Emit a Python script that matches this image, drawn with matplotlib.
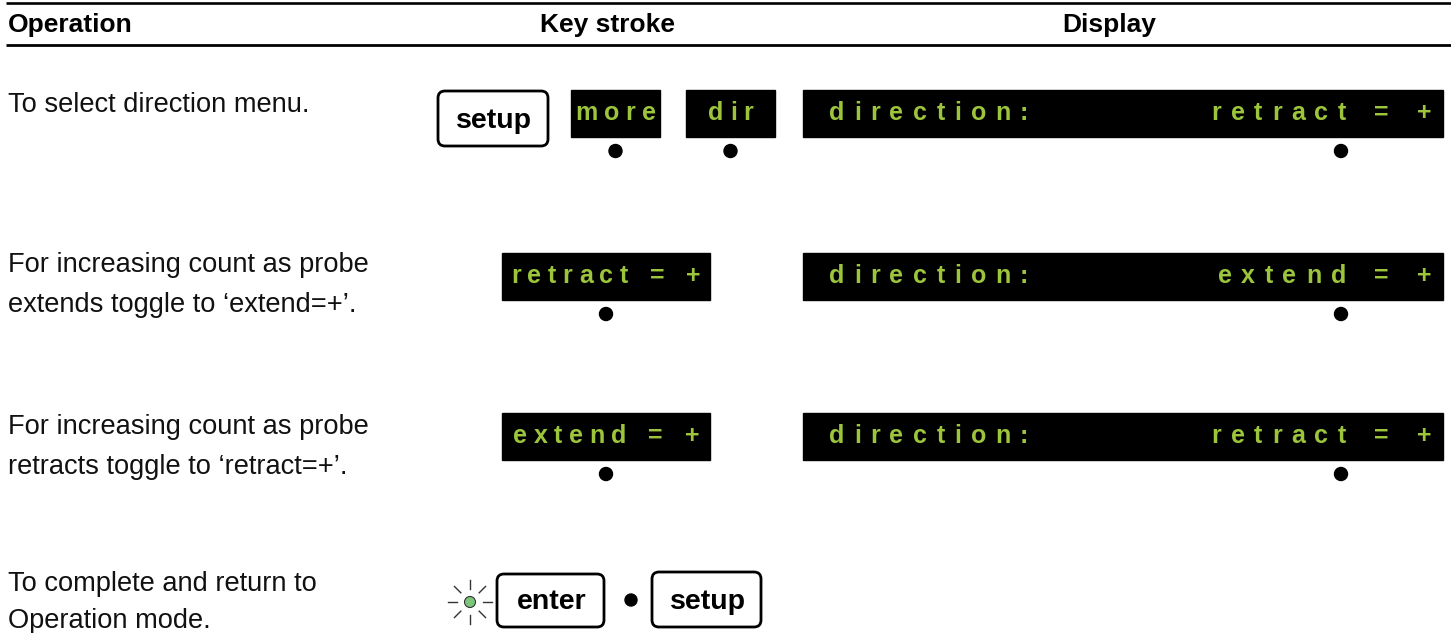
import math
import matplotlib
matplotlib.use("Agg")
import matplotlib.pyplot as plt
from matplotlib.patches import FancyBboxPatch, Rectangle, Circle

W, H = 1451, 633
GREEN = "#9cc53b"
FONT = "Liberation Sans"

# table content
headers = ["Operation", "Key stroke", "Display"]
header_x = [8, 607, 1109]
operations = [
    ["To select direction menu."],
    ["For increasing count as probe", "extends toggle to ‘extend=+’."],
    ["For increasing count as probe", "retracts toggle to ‘retract=+’."],
    ["To complete and return to", "Operation mode."],
]
op_baselines = [[112], [272, 312], [434, 474], [591, 628]]

# lcd key labels per row
lcd_keys = [["more", "dir"], ["retract = +"], ["extend = +"], []]
lcd_key_boxes = [[(571, 660), (686, 775)], [(502, 710)], [(502, 710)], []]

display_left = ["direction:", "direction:", "direction:", None]
display_right = ["retract = +", "extend = +", "retract = +", None]
row_box_y = [(90, 137), (253, 300), (413, 460)]

fig = plt.figure(figsize=(W / 100, H / 100), dpi=100)
ax = fig.add_axes([0, 0, 1, 1])
ax.set_xlim(0, W)
ax.set_ylim(H, 0)
ax.axis("off")
renderer = fig.canvas.get_renderer()

# header rules
ax.plot([6, W], [3, 3], color="black", lw=1.9, solid_capstyle="butt")
ax.plot([6, W], [44.5, 44.5], color="black", lw=2.0, solid_capstyle="butt")
for i, h in enumerate(headers):
    ax.text(header_x[i], 32, h, ha="left" if i == 0 else "center", va="baseline",
            fontsize=19, fontweight="bold", family=FONT)

# operation column
for lines, ys in zip(operations, op_baselines):
    for line, y in zip(lines, ys):
        ax.text(8, y, line, ha="left", va="baseline", fontsize=19.6, family=FONT, color="#111111")


def lcd_text(s, x, base, track, align="left", size=18, space=9):
    # letter-spaced lcd text, one glyph at a time
    items = []
    for ch in s:
        if ch == " ":
            items.append((None, space))
            continue
        t = ax.text(0, base, ch, ha="left", va="baseline", color=GREEN,
                    fontsize=size, fontweight="bold", family=FONT)
        items.append((t, t.get_window_extent(renderer).width))
    total = sum(w for _, w in items) + track * (len(items) - 1)
    if align == "center":
        x = x - total / 2
    elif align == "right":
        x = x - total
    for t, w in items:
        if t is not None:
            t.set_x(x)
        x += w + track


def dot(x, y, r=6.5):
    ax.add_patch(Circle((x, y), r, color="black", zorder=3))


def key(label, x0, x1, y0, y1):
    ax.add_patch(FancyBboxPatch((x0, y0), x1 - x0, y1 - y0,
                                boxstyle="round,pad=0,rounding_size=7",
                                fc="white", ec="black", lw=2.0))
    ax.text((x0 + x1) / 2 + 1, y1 - 18, label, ha="center", va="baseline",
            fontsize=20.5, fontweight="bold", family=FONT)


# row 1 setup key
key("setup", 438, 548, 91, 146)

for r in range(3):
    y0, y1 = row_box_y[r]
    # lcd keys
    for lab, (x0, x1) in zip(lcd_keys[r], lcd_key_boxes[r]):
        ax.add_patch(Rectangle((x0, y0), x1 - x0, y1 - y0, color="black"))
        lcd_text(lab, (x0 + x1) / 2, y1 - 17, 6.5, align="center")
        dot((x0 + x1) / 2, y1 + 14)
    # display
    ax.add_patch(Rectangle((803, y0), 1443 - 803, y1 - y0, color="black"))
    lcd_text(display_left[r], 829, y1 - 17, 9.5)
    lcd_text(display_right[r], 1431, y1 - 17, 9.5, align="right")
    dot(1341, y1 + 14)

# row 4: blinking enter, dot, setup
lx, ly = 470, 602
for a in range(0, 360, 45):
    c, s = math.cos(math.radians(a)), math.sin(math.radians(a))
    ax.plot([lx + 13 * c, lx + 22 * c], [ly + 13 * s, ly + 22 * s], color="#333333", lw=1.0)
ax.add_patch(Circle((lx, ly), 5.5, fc="#7cc67c", ec="#333333", lw=0.8))
key("enter", 497, 604, 574, 627)
dot(631, 600, 6)
key("setup", 652, 761, 572, 627)

fig.savefig("out.png", dpi=100)
